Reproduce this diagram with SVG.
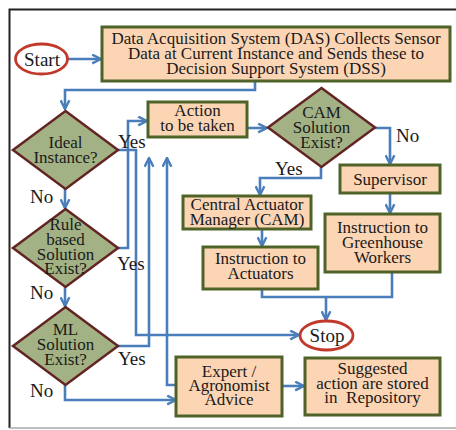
<svg xmlns="http://www.w3.org/2000/svg" width="456" height="430" viewBox="0 0 456 430">
<style>
.box{fill:#fcd5b5;stroke:#4f6228;stroke-width:3}
.dia{fill:#a3b284;stroke:#632523;stroke-width:2.5}
.term{fill:#fff;stroke:#c0392b;stroke-width:2.8}
text{font-size:17px;fill:#1a1a1a;text-anchor:middle}
.lbl{font-size:19px;text-anchor:start}
.big{font-size:19px}
.c{fill:none;stroke:#4a7ebb;stroke-width:2.6;marker-end:url(#ar)}
.cn{fill:none;stroke:#4a7ebb;stroke-width:2.6}
</style>
<defs>
<marker id="ar" viewBox="0 0 10 10" refX="9" refY="5" markerWidth="11" markerHeight="11" markerUnits="userSpaceOnUse" orient="auto">
<path d="M1,1 L9,5 L1,9" fill="none" stroke="#4a7ebb" stroke-width="2.2"/>
</marker>
</defs>
<rect width="456" height="430" fill="#fff"/>
<path d="M9.5,428 V9.5 H456" fill="none" stroke="#222" stroke-width="2"/>
<path d="M9.5,428 H456" fill="none" stroke="#aaa" stroke-width="1.5"/>

<g id="connectors">
<path class="c" d="M68,59 H101"/>
<path class="c" d="M255,81 V90 H65 V109"/>
<path class="c" d="M65,189 V208"/>
<path class="c" d="M65,287 V306"/>
<path class="c" d="M65,385 V400 H176"/>
<path class="c" d="M118,150 H136 V335 H299"/>
<path class="c" d="M118,248 H128 V121 H147"/>
<path class="c" d="M118,346 H149 V158"/>
<path class="c" d="M176,385 H167 V158"/>
<path class="c" d="M247,128 H267"/>
<path class="c" d="M375,128 H390 V164"/>
<path class="c" d="M321,167 V178 H260 V195"/>
<path class="c" d="M390,193 V213"/>
<path class="c" d="M262,229 V246"/>
<path class="cn" d="M262,289 V297 H392 V272"/>
<path class="c" d="M326,297 V320"/>
<path class="c" d="M282,386 H304"/>
</g>

<g font-family="'Liberation Serif', Tinos, 'Times New Roman', 'DejaVu Serif', serif">
<g id="start">
<ellipse class="term" cx="41.5" cy="59" rx="26" ry="15"/>
<text class="big" x="42" y="65.5">Start</text>
</g>
<g id="das">
<rect class="box" x="102" y="27" width="348" height="54"/>
<text x="276" y="44">Data Acquisition System (DAS) Collects Sensor<tspan x="276" dy="15">Data at Current Instance and Sends these to</tspan><tspan x="276" dy="15">Decision Support System (DSS)</tspan></text>
</g>
<g id="ideal">
<polygon class="dia" points="65.5,111 118,150 65.5,189 13,150"/>
<text x="65.5" y="148">Ideal<tspan x="65.5" dy="15">Instance?</tspan></text>
</g>
<g id="rule">
<polygon class="dia" points="65.5,209 118,248 65.5,287 13,248"/>
<text x="65.5" y="230">Rule<tspan x="65.5" dy="15">based</tspan><tspan x="65.5" dy="14.5">Solution</tspan><tspan x="65.5" dy="14.5">Exist?</tspan></text>
</g>
<g id="ml">
<polygon class="dia" points="65.5,307 118,346 65.5,385 13,346"/>
<text x="65.5" y="335">ML<tspan x="65.5" dy="15">Solution</tspan><tspan x="65.5" dy="14.5">Exist?</tspan></text>
</g>
<g id="labels">
<text class="lbl" x="118" y="148">Yes</text>
<text class="lbl" x="30" y="203">No</text>
<text class="lbl" x="117" y="270">Yes</text>
<text class="lbl" x="30" y="299">No</text>
<text class="lbl" x="118" y="365">Yes</text>
<text class="lbl" x="30" y="397">No</text>
<text class="lbl" x="396" y="142">No</text>
<text class="lbl" x="275" y="175">Yes</text>
</g>
<g id="action">
<rect class="box" x="148" y="102" width="99" height="35"/>
<text x="197.5" y="116">Action<tspan x="197.5" dy="15">to be taken</tspan></text>
</g>
<g id="camq">
<polygon class="dia" points="321.5,88 375,127.5 321.5,167 268,127.5"/>
<text x="321.5" y="118">CAM<tspan x="321.5" dy="15">Solution</tspan><tspan x="321.5" dy="14.5">Exist?</tspan></text>
</g>
<g id="supervisor">
<rect class="box" x="340" y="165" width="100" height="28"/>
<text x="390" y="184.5">Supervisor</text>
</g>
<g id="greenhouse">
<rect class="box" x="325" y="214" width="115" height="58"/>
<text x="382.5" y="233">Instruction to<tspan x="382.5" dy="15">Greenhouse</tspan><tspan x="382.5" dy="15">Workers</tspan></text>
</g>
<g id="cam">
<rect class="box" x="183" y="196" width="128" height="33"/>
<text x="247" y="210">Central Actuator<tspan x="247" dy="15">Manager (CAM)</tspan></text>
</g>
<g id="actuators">
<rect class="box" x="203" y="247" width="115" height="42"/>
<text x="260.5" y="264">Instruction to<tspan x="260.5" dy="15">Actuators</tspan></text>
</g>
<g id="stop">
<ellipse class="term" cx="326.5" cy="335.5" rx="26.5" ry="14.5"/>
<text class="big" x="327" y="342">Stop</text>
</g>
<g id="expert">
<rect class="box" x="176" y="357" width="106" height="59"/>
<text x="229" y="377">Expert /<tspan x="229" dy="14">Agronomist</tspan><tspan x="229" dy="14">Advice</tspan></text>
</g>
<g id="suggested">
<rect class="box" x="305" y="358" width="135" height="57"/>
<text x="372.5" y="374" xml:space="preserve">Suggested<tspan x="372.5" dy="15">action are stored</tspan><tspan x="372.5" dy="14">in  Repository</tspan></text>
</g>
</g>
</svg>
